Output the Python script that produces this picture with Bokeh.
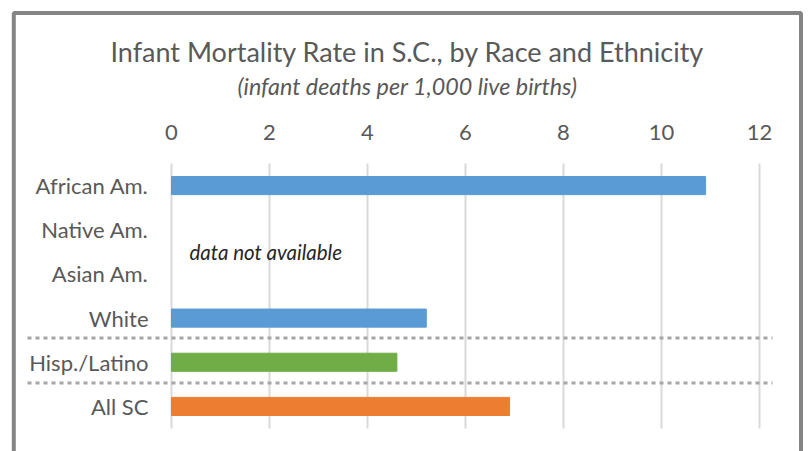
from bokeh.plotting import figure
from bokeh.models import Range1d, ColumnDataSource, BoxAnnotation
from bokeh.core.properties import value
from bokeh.embed import file_html
from bokeh.resources import INLINE

# ---- data ----
categories = ["African Am.", "Native Am.", "Asian Am.", "White", "Hisp./Latino", "All SC"]
rates = [10.9, None, None, 5.2, 4.6, 6.9]
bar_colors = ["#5B9BD5", "#5B9BD5", "#5B9BD5", "#5B9BD5", "#70AD47", "#ED7D31"]
x_ticks = [0, 2, 4, 6, 8, 10, 12]
tick_labels = [str(t) for t in x_ticks]
separators = [3.45, 4.47]
title_text = "Infant Mortality Rate in S.C., by Race and Ethnicity"
subtitle_text = "(infant deaths per 1,000 live births)"
note_text = "data not available"

FONT = "Lato"
TXT = "#595959"
W, H = 809, 451

# ---- layout (pixel geometry of the chart area) ----
X0_PX, PX_PER_UNIT = 171.0, 49.0          # x = 0 at pixel 171, 49 px per unit
Y_TOP_PX, PX_PER_CAT = 163.0, 44.17        # top of category band, px per category


def xd(px):
    return (px - X0_PX) / PX_PER_UNIT


def yd(py):
    return (py - Y_TOP_PX) / PX_PER_CAT - 0.5


idx = list(range(len(categories)))
bars = [(i, r, c) for i, r, c in zip(idx, rates, bar_colors) if r is not None]
bar_src = ColumnDataSource(dict(y=[b[0] for b in bars], right=[b[1] for b in bars],
                                color=[b[2] for b in bars]))
n = len(categories)
cat_top, cat_bottom = -0.5, n - 0.5

p = figure(width=W, height=H, output_backend="svg", toolbar_location=None,
           x_range=Range1d(xd(0), xd(W)), y_range=Range1d(yd(H), yd(0)),
           min_border=0, min_border_left=0, min_border_right=0,
           min_border_top=0, min_border_bottom=0)
p.outline_line_color = None
p.background_fill_color = "white"
p.border_fill_color = "white"
p.axis.visible = False
p.grid.grid_line_color = None

# vertical gridlines at the ticks, only across the category band
p.segment(x0=x_ticks, x1=x_ticks, y0=[cat_top] * len(x_ticks), y1=[cat_bottom] * len(x_ticks),
          line_color="#d9d9d9", line_width=2)

# tick labels along the top
p.text(x=x_ticks, y=[yd(132)] * len(x_ticks), text=tick_labels, text_align="center",
       text_baseline="middle", text_font=value(FONT), text_font_size="22px",
       text_color=TXT)

# bars
p.hbar(y="y", left=0, right="right", height=0.41, color="color", source=bar_src)

# category labels
p.text(x=[xd(148)] * n, y=idx, text=categories, text_align="right",
       text_baseline="middle", text_font=value(FONT), text_font_size="22px",
       text_color=TXT)

# note
p.text(x=[xd(189)], y=[(1 + 2) / 2], text=[note_text], text_align="left",
       text_baseline="middle", text_font=value(FONT), text_font_size="20.5px",
       text_font_style="italic", text_color="#262626")

# dotted separators
p.segment(x0=[xd(27)] * len(separators), x1=[xd(772)] * len(separators),
          y0=separators, y1=separators, line_color="#a6a6a6", line_width=3,
          line_dash="4 4")

# titles
p.text(x=[xd(407)], y=[yd(51)], text=[title_text], text_align="center",
       text_baseline="middle", text_font=value(FONT), text_font_size="27px",
       text_color=TXT)
p.text(x=[xd(407)], y=[yd(85)], text=[subtitle_text], text_align="center",
       text_baseline="middle", text_font=value(FONT), text_font_size="23.3px",
       text_font_style="italic", text_color=TXT)

# chart border (open at the bottom, beyond the window)
p.add_layout(BoxAnnotation(left=xd(13.3), right=xd(800.5), top=yd(12.5), bottom=yd(H + 20),
                           fill_color=None, fill_alpha=0, line_color="#858585",
                           line_alpha=1.0, line_width=4))

open("out.html", "w").write(file_html(p, INLINE))
